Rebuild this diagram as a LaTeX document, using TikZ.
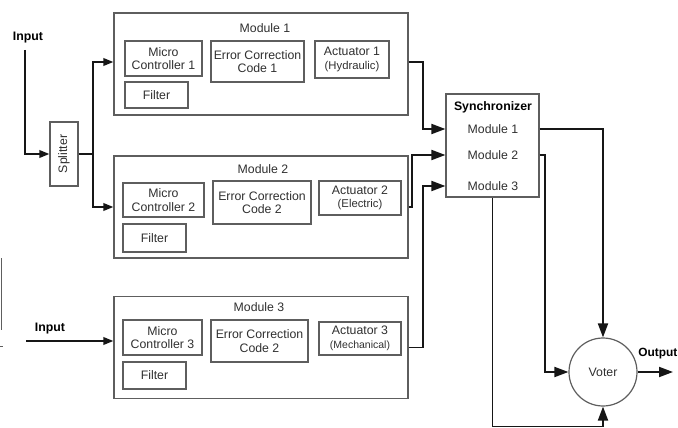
\documentclass[tikz,border=0pt]{standalone}
\usepackage{fontspec}
\setmainfont{Liberation Sans}
\usetikzlibrary{arrows.meta}
\definecolor{boxgray}{HTML}{5E5E5E}
\definecolor{txt}{HTML}{303030}
\definecolor{wire}{HTML}{161616}
\begin{document}
\begin{tikzpicture}[x=1pt,y=-1pt,
  lbl/.style={inner sep=0pt, text=txt, align=center, font=\fontsize{12.3}{13.6}\selectfont},
  blbl/.style={lbl, font=\fontsize{12.3}{13.6}\selectfont\bfseries, text=black},
  box/.style={lbl, draw=boxgray, line width=1.2pt},
  modbox/.style={box, minimum width=294pt, minimum height=102pt},
  conn/.style={draw=wire, line width=1.9pt, line join=miter},
  sarr/.style={conn, -{Triangle[length=10pt,width=7.5pt]}},
  barr/.style={conn, -{Triangle[length=14pt,width=10pt]}}
]
\useasboundingbox[fill=white] (0,0) rectangle (678,428);

% --- Module 1 ---
\node[modbox] (mod1) at (261,64) {};
\node[lbl] (mod1t) at (265,28) {Module 1};
\node[box, minimum width=77pt, minimum height=35pt] (mc1) at (163.5,58.5) {Micro\\Controller 1};
\node[box, minimum width=93pt, minimum height=41pt] (ecc1) at (257.5,61.5) {Error Correction\\Code 1};
\node[box, minimum width=74pt, minimum height=37pt] (act1) at (352,59.5) {Actuator 1\\{\fontsize{11.3}{12.5}\selectfont(Hydraulic)}};
\node[box, minimum width=63pt, minimum height=26pt] (fil1) at (156.5,95) {Filter};

% --- Module 2 ---
\node[modbox] (mod2) at (261,207) {};
\node[lbl] (mod2t) at (263,169) {Module 2};
\node[box, minimum width=81pt, minimum height=34pt] (mc2) at (163.5,200) {Micro\\Controller 2};
\node[box, minimum width=98pt, minimum height=43pt] (ecc2) at (262,202.5) {Error Correction\\Code 2};
\node[box, minimum width=82pt, minimum height=34pt] (act2) at (360,198) {Actuator 2\\{\fontsize{11.3}{12.5}\selectfont(Electric)}};
\node[box, minimum width=63pt, minimum height=28pt] (fil2) at (154.5,238) {Filter};

% --- Module 3 ---
\node[modbox] (mod3) at (261,347.5) {};
\node[lbl] (mod3t) at (259,307) {Module 3};
\node[box, minimum width=79pt, minimum height=35pt] (mc3) at (162.5,337.5) {Micro\\Controller 3};
\node[box, minimum width=97pt, minimum height=42pt] (ecc3) at (259.5,341) {Error Correction\\Code 2};
\node[box, minimum width=82pt, minimum height=33pt] (act3) at (360,338.5) {Actuator 3\\{\fontsize{10.5}{12.5}\selectfont(Mechanical)}};
\node[box, minimum width=63pt, minimum height=27pt] (fil3) at (154.5,375.5) {Filter};

% --- Splitter ---
\node[box, minimum width=28pt, minimum height=64pt] (split) at (64,154) {};
\node[lbl, rotate=90] (splitt) at (split) {Splitter};

% --- Synchronizer ---
\node[box, minimum width=93pt, minimum height=103pt] (sync) at (492.5,145.5) {};
\node[blbl] (synct) at (493,107) {Synchronizer};
\node[lbl] (sm1) at (493,129) {Module 1};
\node[lbl] (sm2) at (493,155) {Module 2};
\node[lbl] (sm3) at (493,186) {Module 3};

% --- Voter ---
\node[lbl, draw=boxgray, line width=1.2pt, circle, minimum size=68pt] (voter) at (603,372) {Voter};

% --- Inputs ---
\node[blbl] (in1t) at (28,38) {Input};
\coordinate (in1) at (25,50);
\node[blbl] (in3t) at (50,329) {Input};
\coordinate (in3) at (26,341);
\coordinate (spj) at (93,154);

\draw[sarr] (in1) |- (split.west);
\draw[conn] (split.east) -- (spj);
\draw[sarr] (spj) |- ([yshift=2pt]mod1.west);
\draw[sarr] (spj) |- (mod2.west);
\draw[sarr] (in3) -- (in3 -| mod3.west);

% --- Module outputs to synchronizer ---
\draw[barr] ([yshift=2pt]mod1.east) -- ++(14,0) |- (sync.west |- sm1);
\draw[barr] (mod2.east) -- ++(3,0) |- (sync.west |- sm2);
\draw[barr] (mod3.east) -- ++(14,0) |- (sync.west |- sm3);

% --- Synchronizer to voter ---
\draw[barr] (sync.east |- sm1) -| (voter.north);
\draw[barr] (sync.east |- sm2) -- (545,155) |- (voter.west);
\draw[barr] (sync.south) -- (492.5,426.5) -| (voter.south);

% --- Output ---
\coordinate (out) at (673,372);
\draw[barr] (voter.east) -- (out);
\node[blbl, anchor=east, font=\fontsize{11.9}{13}\selectfont\bfseries] (outt) at (677.5,354) {Output};

% --- edge fragment at the left border ---
\draw[boxgray, line width=1pt] (1,258) -- (1,330);
\draw[boxgray, line width=1pt] (0,346) -- (3,346);
\end{tikzpicture}
\end{document}
